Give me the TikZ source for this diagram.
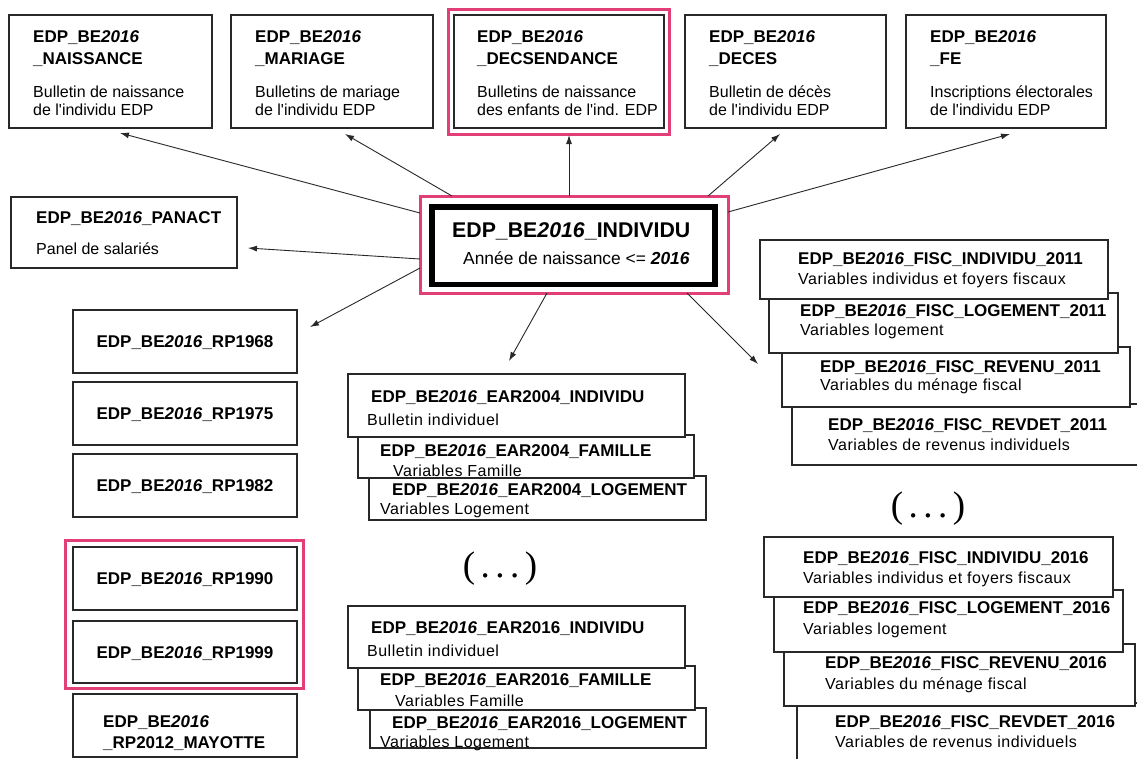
\documentclass[tikz,border=0pt]{standalone}
\usepackage{fontspec}
\setmainfont{Liberation Sans}
\newfontfamily\spsans[LetterSpace=3]{Liberation Sans}
\newfontfamily\plainsans{Liberation Sans}
\newfontfamily\dotsserif{Liberation Serif}
\usetikzlibrary{arrows.meta}
\definecolor{pinkc}{RGB}{226,62,120}
\definecolor{linec}{RGB}{40,40,40}
\begin{document}
\begin{tikzpicture}[x=1pt,y=-1pt,
  box/.style={draw=linec, line width=1.1pt, fill=white, inner sep=0, outer sep=0, anchor=north west},
  pinkframe/.style={draw=pinkc, line width=3pt, inner sep=0, outer sep=0, anchor=north west},
  ttl/.style={font=\bfseries\fontsize{17}{20}\selectfont, inner sep=0, anchor=base west},
  sub/.style={font=\plainsans\fontsize{16}{19}\selectfont, inner sep=0, anchor=base west},
  subs/.style={font=\spsans\fontsize{16}{19}\selectfont, inner sep=0, anchor=base west},
  ellip/.style={font=\dotsserif\fontsize{37}{37}\selectfont, inner sep=0},
  arr/.style={draw=linec, line width=0.9pt, -{Latex[length=9pt,width=6pt]}}
]
\useasboundingbox[fill=white] (0,0) rectangle (1137,758);

% ---------- top row ----------
\node[box, minimum width=203, minimum height=113] (nais) at (9,15) {};
\node[ttl] (naisA) at (33,42) {EDP\_BE\textit{2016}};
\node[ttl] (naisB) at (33,64) {\_NAISSANCE};
\node[sub] (naisC) at (33,97) {Bulletin de naissance};
\node[sub] (naisD) at (33,115) {de l'individu EDP};

\node[box, minimum width=202, minimum height=113] (mar) at (231,15) {};
\node[ttl] (marA) at (255,42) {EDP\_BE\textit{2016}};
\node[ttl] (marB) at (255,64) {\_MARIAGE};
\node[sub] (marC) at (255,97) {Bulletins de mariage};
\node[sub] (marD) at (255,115) {de l'individu EDP};

\node[pinkframe, minimum width=221, minimum height=125] (descp) at (448,9) {};
\node[box, minimum width=210, minimum height=113] (desc) at (454,15) {};
\node[ttl] (descA) at (477,42) {EDP\_BE\textit{2016}};
\node[ttl] (descB) at (477,64) {\_DECSENDANCE};
\node[sub] (descC) at (477,97) {Bulletins de naissance};
\node[sub] (descD) at (477,115) {des enfants de l'ind. EDP};

\node[box, minimum width=201, minimum height=113] (dec) at (685,15) {};
\node[ttl] (decA) at (709,42) {EDP\_BE\textit{2016}};
\node[ttl] (decB) at (709,64) {\_DECES};
\node[sub] (decC) at (709,97) {Bulletin de décès};
\node[sub] (decD) at (709,115) {de l'individu EDP};

\node[box, minimum width=200, minimum height=113] (fe) at (906,15) {};
\node[ttl] (feA) at (930,42) {EDP\_BE\textit{2016}};
\node[ttl] (feB) at (930,64) {\_FE};
\node[sub] (feC) at (930,97) {Inscriptions électorales};
\node[sub] (feD) at (930,115) {de l'individu EDP};

% ---------- PANACT ----------
\node[box, minimum width=226, minimum height=71] (pan) at (11,197) {};
\node[ttl] (panA) at (36,223) {EDP\_BE\textit{2016}\_PANACT};
\node[sub] (panB) at (36,254) {Panel de salariés};

% ---------- centre ----------
\node[pinkframe, minimum width=308, minimum height=97] (indp) at (420,196) {};
\node[draw=black, line width=5.5pt, inner sep=0, outer sep=0, anchor=north west,
      minimum width=283, minimum height=77.5] (ind) at (432,207) {};
\node[font=\bfseries\fontsize{21.3}{24}\selectfont, inner sep=0, anchor=base west] (indA) at (452,237) {EDP\_BE\textit{2016}\_INDIVIDU};
\node[font=\fontsize{17.4}{20}\selectfont, inner sep=0, anchor=base west] (indB) at (463,264) {Année de naissance <= \textbf{\textit{2016}}};

% ---------- left column ----------
\node[box, minimum width=224, minimum height=63] (rp68) at (73,310) {};
\node[ttl, anchor=base] (rp68t) at (185,347) {EDP\_BE\textit{2016}\_RP1968};
\node[box, minimum width=224, minimum height=63] (rp75) at (73,382) {};
\node[ttl, anchor=base] (rp75t) at (185,419) {EDP\_BE\textit{2016}\_RP1975};
\node[box, minimum width=224, minimum height=63] (rp82) at (73,454) {};
\node[ttl, anchor=base] (rp82t) at (185,491) {EDP\_BE\textit{2016}\_RP1982};
\node[pinkframe, minimum width=238, minimum height=148] (rpp) at (65,540) {};
\node[box, minimum width=224, minimum height=63] (rp90) at (73,547) {};
\node[ttl, anchor=base] (rp90t) at (185,584) {EDP\_BE\textit{2016}\_RP1990};
\node[box, minimum width=224, minimum height=62] (rp99) at (73,621) {};
\node[ttl, anchor=base] (rp99t) at (185,658) {EDP\_BE\textit{2016}\_RP1999};
\node[box, minimum width=224, minimum height=63] (rp12) at (73,694) {};
\node[ttl] (rp12a) at (103,727) {EDP\_BE\textit{2016}};
\node[ttl] (rp12b) at (103,748) {\_RP2012\_MAYOTTE};

% ---------- EAR 2004 stack ----------
\node[box, minimum width=337, minimum height=44] (e04l) at (369,476) {};
\node[ttl] (e04lA) at (392,495) {EDP\_BE\textit{2016}\_EAR2004\_LOGEMENT};
\node[subs] (e04lB) at (380,514) {Variables Logement};
\node[box, minimum width=336, minimum height=43] (e04f) at (358,435) {};
\node[ttl] (e04fA) at (380,456) {EDP\_BE\textit{2016}\_EAR2004\_FAMILLE};
\node[subs] (e04fB) at (393,476) {Variables Famille};
\node[box, minimum width=337, minimum height=63] (e04i) at (348,374) {};
\node[ttl] (e04iA) at (371,402) {EDP\_BE\textit{2016}\_EAR2004\_INDIVIDU};
\node[subs] (e04iB) at (367,425) {Bulletin individuel};

\node[ellip] (dotsM) at (500,569) {(\hspace{5.5pt}.\hspace{5.5pt}.\hspace{5.5pt}.\hspace{5.5pt})};

% ---------- EAR 2016 stack ----------
\node[box, minimum width=336, minimum height=40] (e16l) at (370,708) {};
\node[ttl] (e16lA) at (392,728) {EDP\_BE\textit{2016}\_EAR2016\_LOGEMENT};
\node[subs] (e16lB) at (380,747) {Variables Logement};
\node[box, minimum width=337, minimum height=44] (e16f) at (358,666) {};
\node[ttl] (e16fA) at (380,685) {EDP\_BE\textit{2016}\_EAR2016\_FAMILLE};
\node[subs] (e16fB) at (395,706) {Variables Famille};
\node[box, minimum width=337, minimum height=62] (e16i) at (348,606) {};
\node[ttl] (e16iA) at (371,633) {EDP\_BE\textit{2016}\_EAR2016\_INDIVIDU};
\node[subs] (e16iB) at (367,656) {Bulletin individuel};

% ---------- FISC 2011 stack ----------
\node[box, minimum width=370, minimum height=61] (f11d) at (792,404) {};
\node[ttl] (f11dA) at (828,430) {EDP\_BE\textit{2016}\_FISC\_REVDET\_2011};
\node[subs] (f11dB) at (828,450) {Variables de revenus individuels};
\node[box, minimum width=348, minimum height=60] (f11r) at (782,347) {};
\node[ttl] (f11rA) at (820,372) {EDP\_BE\textit{2016}\_FISC\_REVENU\_2011};
\node[subs] (f11rB) at (820,390) {Variables du ménage fiscal};
\node[box, minimum width=349, minimum height=60] (f11l) at (769,293) {};
\node[ttl] (f11lA) at (800,316) {EDP\_BE\textit{2016}\_FISC\_LOGEMENT\_2011};
\node[subs] (f11lB) at (800,335) {Variables logement};
\node[box, minimum width=348, minimum height=59] (f11i) at (760,240) {};
\node[ttl] (f11iA) at (798,264) {EDP\_BE\textit{2016}\_FISC\_INDIVIDU\_2011};
\node[subs] (f11iB) at (798,284) {Variables individus et foyers fiscaux};

\node[ellip] (dotsR) at (928,509) {(\hspace{5.5pt}.\hspace{5.5pt}.\hspace{5.5pt}.\hspace{5.5pt})};

% ---------- FISC 2016 stack ----------
\node[box, minimum width=370, minimum height=90] (f16d) at (797,703) {};
\node[ttl] (f16dA) at (835,727) {EDP\_BE\textit{2016}\_FISC\_REVDET\_2016};
\node[subs] (f16dB) at (835,747) {Variables de revenus individuels};
\node[box, minimum width=351, minimum height=62] (f16r) at (784,644) {};
\node[ttl] (f16rA) at (825,668) {EDP\_BE\textit{2016}\_FISC\_REVENU\_2016};
\node[subs] (f16rB) at (825,689) {Variables du ménage fiscal};
\node[box, minimum width=349, minimum height=62] (f16l) at (774,590) {};
\node[ttl] (f16lA) at (803,613) {EDP\_BE\textit{2016}\_FISC\_LOGEMENT\_2016};
\node[subs] (f16lB) at (803,634) {Variables logement};
\node[box, minimum width=349, minimum height=60] (f16i) at (764,537) {};
\node[ttl] (f16iA) at (803,563) {EDP\_BE\textit{2016}\_FISC\_INDIVIDU\_2016};
\node[subs] (f16iB) at (803,583) {Variables individus et foyers fiscaux};

% ---------- connectors ----------
\coordinate (s1) at (420,213);  \coordinate (t1) at (120,133);
\coordinate (s2) at (452,196);  \coordinate (t2) at (345,134);
\coordinate (s3) at (569,196);  \coordinate (t3) at (569,135);
\coordinate (s4) at (708,196);  \coordinate (t4) at (780,134);
\coordinate (s5) at (728,212);  \coordinate (t5) at (1010,134);
\coordinate (s6) at (420,259);  \coordinate (t6) at (248,248);
\coordinate (s7) at (420,268);  \coordinate (t7) at (310,327);
\coordinate (s8) at (547,293);  \coordinate (t8) at (509,361);
\coordinate (s9) at (687,293);  \coordinate (t9) at (758,364);
\foreach \i in {1,...,9} { \draw[arr] (s\i) -- (t\i); }
\end{tikzpicture}
\end{document}
